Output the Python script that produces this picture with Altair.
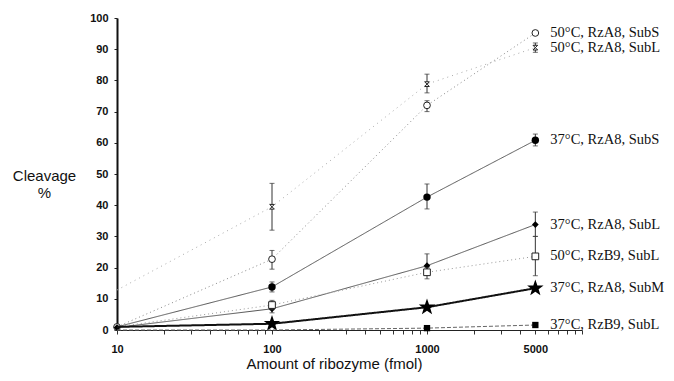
import altair as alt
import pandas as pd

# ---- data ----
amounts = [10, 100, 1000, 5000]

series_names = [
    "50°C, RzA8, SubS",
    "50°C, RzA8, SubL",
    "37°C, RzA8, SubS",
    "37°C, RzA8, SubL",
    "50°C, RzB9, SubL",
    "37°C, RzA8, SubM",
    "37°C, RzB9, SubL",
]

values = {
    "50°C, RzA8, SubS": [1, 22.7, 72, 95.2],
    "50°C, RzA8, SubL": [12.8, 39.5, 78.8, 90.5],
    "37°C, RzA8, SubS": [1, 13.8, 42.6, 60.8],
    "37°C, RzA8, SubL": [0.8, 6.8, 20.6, 33.8],
    "50°C, RzB9, SubL": [1, 8, 18.5, 23.6],
    "37°C, RzA8, SubM": [1, 2, 7.3, 13.4],
    "37°C, RzB9, SubL": [0, 0, 0.6, 1.6],
}

err_low = {
    "50°C, RzA8, SubS": [None, 19.5, 70, None],
    "50°C, RzA8, SubL": [None, 32, 76, 89],
    "37°C, RzA8, SubS": [None, 12.2, 38.8, 59],
    "37°C, RzA8, SubL": [None, 5.5, 17.5, 30],
    "50°C, RzB9, SubL": [None, 6.5, 16.4, 17.4],
    "37°C, RzA8, SubM": [None, None, None, None],
    "37°C, RzB9, SubL": [None, None, None, None],
}
err_high = {
    "50°C, RzA8, SubS": [None, 25.5, 73.5, None],
    "50°C, RzA8, SubL": [None, 47, 82, 92],
    "37°C, RzA8, SubS": [None, 15.4, 46.8, 62.8],
    "37°C, RzA8, SubL": [None, 8.5, 24.4, 37.8],
    "50°C, RzB9, SubL": [None, 9.5, 20, 30],
    "37°C, RzA8, SubM": [None, None, None, None],
    "37°C, RzB9, SubL": [None, None, None, None],
}

# which points show a visible marker in the figure
marker_visible = {
    "50°C, RzA8, SubS": [True, True, True, True],
    "50°C, RzA8, SubL": [False, True, True, True],
    "37°C, RzA8, SubS": [False, True, True, True],
    "37°C, RzA8, SubL": [True, True, True, True],
    "50°C, RzB9, SubL": [False, True, True, True],
    "37°C, RzA8, SubM": [False, True, True, True],
    "37°C, RzB9, SubL": [False, False, True, True],
}

x_tick_values = [10, 20, 30, 40, 50, 60, 70, 80, 90,
                 100, 200, 300, 400, 500, 600, 700, 800, 900,
                 1000, 2000, 3000, 4000, 5000, 6000, 7000, 8000, 9000, 10000]
x_labelled = [10, 100, 1000, 5000]
y_tick_values = [0, 10, 20, 30, 40, 50, 60, 70, 80, 90, 100]

STAR = ("M0,-1L0.235,-0.324L0.951,-0.309L0.38,0.124L0.588,0.809L0,0.4"
        "L-0.588,0.809L-0.38,0.124L-0.951,-0.309L-0.235,-0.324Z")
HOURGLASS = "M-1,-1L1,-1L0,0L1,1L-1,1L0,0Z"

styles = {
    "50°C, RzA8, SubS": dict(shape="circle", filled=False, size=45, color="#888", dash=[1, 3], width=1),
    "50°C, RzA8, SubL": dict(shape=HOURGLASS, filled=False, size=22, color="#aaa", dash=[1, 4], width=1),
    "37°C, RzA8, SubS": dict(shape="circle", filled=True, size=55, color="#555", dash=[1, 0], width=1),
    "37°C, RzA8, SubL": dict(shape="diamond", filled=True, size=45, color="#555", dash=[1, 0], width=1),
    "50°C, RzB9, SubL": dict(shape="square", filled=False, size=45, color="#999", dash=[1, 3], width=1),
    "37°C, RzA8, SubM": dict(shape=STAR, filled=True, size=300, color="#111", dash=[1, 0], width=2),
    "37°C, RzB9, SubL": dict(shape="square", filled=True, size=40, color="#666", dash=[4, 2], width=1),
}

xs = alt.Scale(type="log", domain=[10, 10000])
ys = alt.Scale(domain=[0, 100])

label_test = " || ".join(f"datum.value == {v}" for v in x_labelled)
x_axis = alt.Axis(
    values=x_tick_values, labelExpr=f"({label_test}) ? '' + datum.value : ''",
    grid=False, tickSize=4, tickColor="#333", domainColor="#222", domainWidth=1,
    labelFont="Liberation Sans", labelFontWeight="bold", labelFontSize=11,
    labelPadding=9, labelOverlap=False, labelFlush=False, labelColor="#111",
    title="Amount of ribozyme (fmol)", titleFont="Liberation Sans", titleFontSize=15,
    titleFontWeight="normal", titleX=217, titleY=33, titleAlign="center",
    titleBaseline="middle", titleColor="#111",
)
y_axis = alt.Axis(
    values=y_tick_values, grid=False, tickSize=3, tickColor="#222",
    domainColor="#111", domainWidth=2, labelPadding=6,
    labelFont="Liberation Sans", labelFontWeight="bold", labelFontSize=11,
    labelColor="#111",
    title=["Cleavage", "%"], titleAngle=0, titleFont="Liberation Sans",
    titleFontSize=15, titleFontWeight="normal", titleX=-73, titleY=157,
    titleAlign="center", titleBaseline="middle", titleLineHeight=17,
    titleColor="#111",
)


def X():
    return alt.X("x:Q", scale=xs, axis=x_axis)


def Yf(field):
    return alt.Y(f"{field}:Q", scale=ys, axis=y_axis)


layers = []
for name in series_names:
    st = styles[name]
    df = pd.DataFrame({
        "x": amounts,
        "y": values[name],
        "lo": err_low[name],
        "hi": err_high[name],
        "show": marker_visible[name],
        "series": name,
    })
    base = alt.Chart(df)

    layers.append(base.mark_line(color=st["color"], strokeWidth=st["width"],
                                 strokeDash=st["dash"]).encode(x=X(), y=Yf("y")))

    edf = df.dropna(subset=["lo", "hi"])
    if len(edf):
        eb = alt.Chart(edf)
        layers.append(eb.mark_rule(color="#333", strokeWidth=1).encode(
            x=X(), y=Yf("lo"), y2="hi:Q"))
        layers.append(eb.mark_tick(orient="horizontal", size=5, thickness=1, color="#333").encode(
            x=X(), y=Yf("lo")))
        layers.append(eb.mark_tick(orient="horizontal", size=5, thickness=1, color="#333").encode(
            x=X(), y=Yf("hi")))

    mdf = df[df["show"]]
    if st["filled"]:
        pt = alt.Chart(mdf).mark_point(shape=st["shape"], size=st["size"], filled=True,
                                       color="#000", opacity=1)
    else:
        pt = alt.Chart(mdf).mark_point(shape=st["shape"], size=st["size"], filled=False,
                                       fill="white", fillOpacity=1, stroke="#222",
                                       strokeWidth=1, opacity=1)
    layers.append(pt.encode(x=X(), y=Yf("y")))

    last = df[df["x"] == amounts[-1]]
    layers.append(alt.Chart(last).mark_text(
        align="left", baseline="middle", dx=15, font="Liberation Serif",
        fontSize=14.5, color="#111").encode(
        x=X(), y=Yf("y"), text="series:N"))

chart = alt.layer(*layers).properties(
    width=465, height=312,
    autosize=alt.AutoSizeParams(type="none"),
    padding={"left": 109, "top": 10, "right": 84, "bottom": 43},
    background="white",
).configure_view(stroke=None)

chart.save("out.html", embed_options={"renderer": "svg", "actions": False})
